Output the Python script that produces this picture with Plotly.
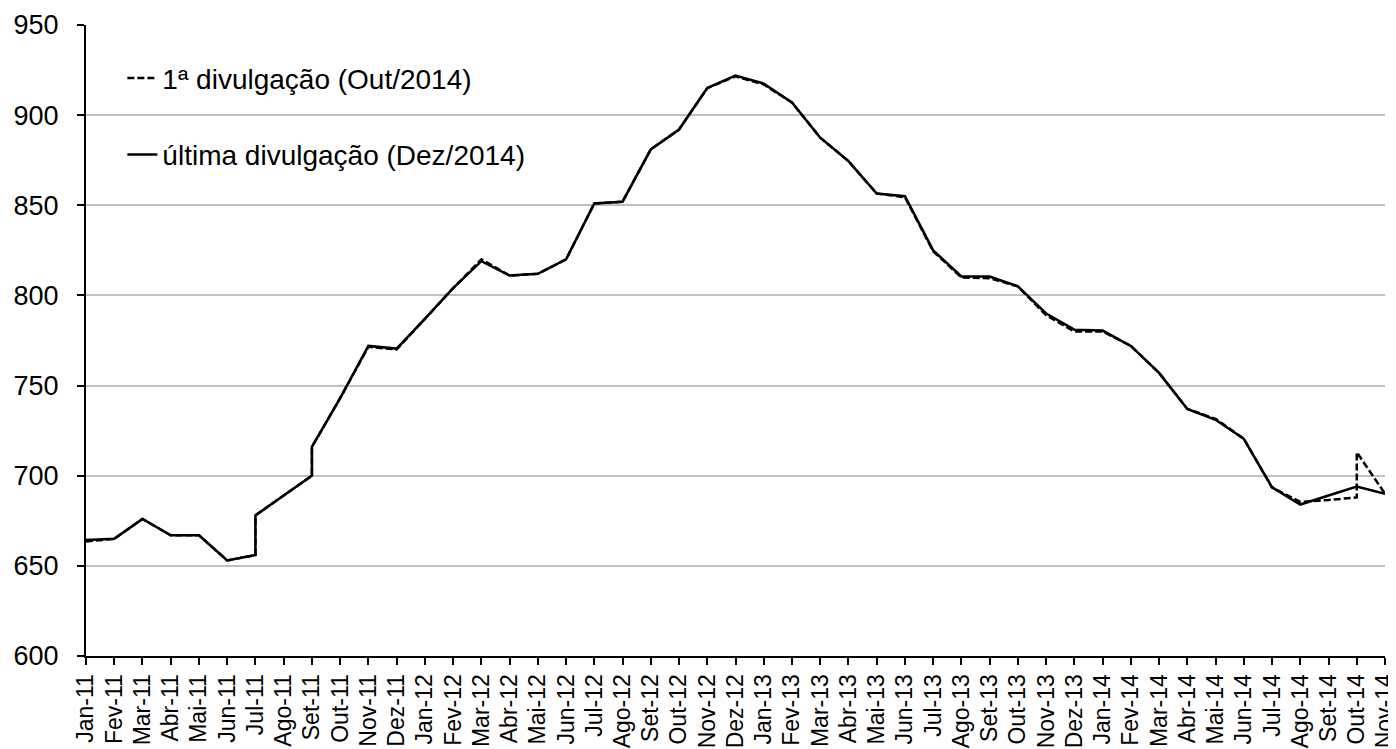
import plotly.graph_objects as go

months = ["Jan-11","Fev-11","Mar-11","Abr-11","Mai-11","Jun-11","Jul-11","Ago-11","Set-11","Out-11","Nov-11","Dez-11",
          "Jan-12","Fev-12","Mar-12","Abr-12","Mai-12","Jun-12","Jul-12","Ago-12","Set-12","Out-12","Nov-12","Dez-12",
          "Jan-13","Fev-13","Mar-13","Abr-13","Mai-13","Jun-13","Jul-13","Ago-13","Set-13","Out-13","Nov-13","Dez-13",
          "Jan-14","Fev-14","Mar-14","Abr-14","Mai-14","Jun-14","Jul-14","Ago-14","Set-14","Out-14","Nov-14"]

# última divulgação (Dez/2014) — repeated months = two readings in the same month
x_ultima = ["Jan-11","Fev-11","Mar-11","Abr-11","Mai-11","Jun-11","Jul-11","Jul-11","Ago-11","Set-11","Set-11","Out-11","Nov-11","Dez-11",
            "Jan-12","Fev-12","Mar-12","Abr-12","Mai-12","Jun-12","Jul-12","Ago-12","Set-12","Out-12","Nov-12","Dez-12",
            "Jan-13","Fev-13","Mar-13","Abr-13","Mai-13","Jun-13","Jul-13","Ago-13","Set-13","Out-13","Nov-13","Dez-13",
            "Jan-14","Fev-14","Mar-14","Abr-14","Mai-14","Jun-14","Jul-14","Ago-14","Set-14","Out-14","Nov-14"]
y_ultima = [664.3, 665, 676, 667, 667, 653, 656, 678, 689, 700, 716, 743, 772, 770.5,
            787, 804, 819, 811, 812, 820, 851, 852, 881, 892, 915, 922,
            917.5, 907, 887.5, 874.5, 856.5, 855, 825, 810.5, 810.5, 805, 790, 781,
            780.5, 772, 757, 737, 731, 720.5, 693.5, 684, 689, 694, 690]

# 1ª divulgação (Out/2014)
x_primeira = ["Jan-11","Fev-11","Mar-11","Abr-11","Mai-11","Jun-11","Jul-11","Jul-11","Ago-11","Set-11","Set-11","Out-11","Nov-11","Dez-11",
              "Jan-12","Fev-12","Mar-12","Abr-12","Mai-12","Jun-12","Jul-12","Ago-12","Set-12","Out-12","Nov-12","Dez-12",
              "Jan-13","Fev-13","Mar-13","Abr-13","Mai-13","Jun-13","Jul-13","Ago-13","Set-13","Out-13","Nov-13","Dez-13",
              "Jan-14","Fev-14","Mar-14","Abr-14","Mai-14","Jun-14","Jul-14","Ago-14","Set-14","Out-14","Out-14","Nov-14"]
y_primeira = [663.5, 665, 676, 667, 667, 653, 656, 678, 689, 700, 716, 743, 771.5, 770,
              787, 804, 820, 811, 812, 820, 851, 852, 881, 892, 915, 921.5,
              917, 907, 887.5, 874.5, 856.5, 854.5, 824.5, 810, 809.5, 805, 789, 780,
              780, 772, 757, 737, 731.5, 720.5, 693.5, 685.5, 686.5, 688, 713, 690]

yticks = [600, 650, 700, 750, 800, 850, 900, 950]

font_family = "Arial, Liberation Sans, sans-serif"

fig = go.Figure()
fig.add_trace(go.Scatter(x=x_primeira, y=y_primeira, mode="lines",
                         name="1ª divulgação (Out/2014)", legendgroup="a",
                         line=dict(color="black", width=2.5, dash="7px,3px")))
fig.add_trace(go.Scatter(x=x_ultima, y=y_ultima, mode="lines",
                         name="última divulgação (Dez/2014)", legendgroup="b",
                         line=dict(color="black", width=2.5)))

fig.update_layout(
    width=1388, height=741,
    margin=dict(l=78, r=11, t=16.5, b=92.5, autoexpand=False),
    paper_bgcolor="white", plot_bgcolor="white",
    font=dict(family=font_family, color="black"),
    legend=dict(x=0.028, y=0.955, xanchor="left", yanchor="top",
                font=dict(size=28, family=font_family, color="black"),
                bgcolor="rgba(0,0,0,0)", tracegroupgap=37, traceorder="grouped"),
    showlegend=True,
)
fig.update_xaxes(type="category", categoryorder="array", categoryarray=months,
                 tickmode="array", tickvals=months, ticktext=months,
                 range=[0, len(months) - 1], automargin=False,
                 tickangle=-90, tickfont=dict(size=23, family=font_family, color="black"),
                 showline=True, linecolor="black", linewidth=2,
                 ticks="outside", ticklen=7, tickwidth=1.5, tickcolor="black",
                 showgrid=False, zeroline=False)
fig.update_yaxes(range=[600, 950], tickmode="array", tickvals=yticks, automargin=False,
                 tickfont=dict(size=27, family=font_family, color="black"),
                 ticklabelstandoff=13,
                 showline=True, linecolor="black", linewidth=2,
                 ticks="outside", ticklen=7, tickwidth=1.5, tickcolor="black",
                 showgrid=True, gridcolor="#c0c0c0", gridwidth=1.5, zeroline=False)

fig.write_html("out.html")
